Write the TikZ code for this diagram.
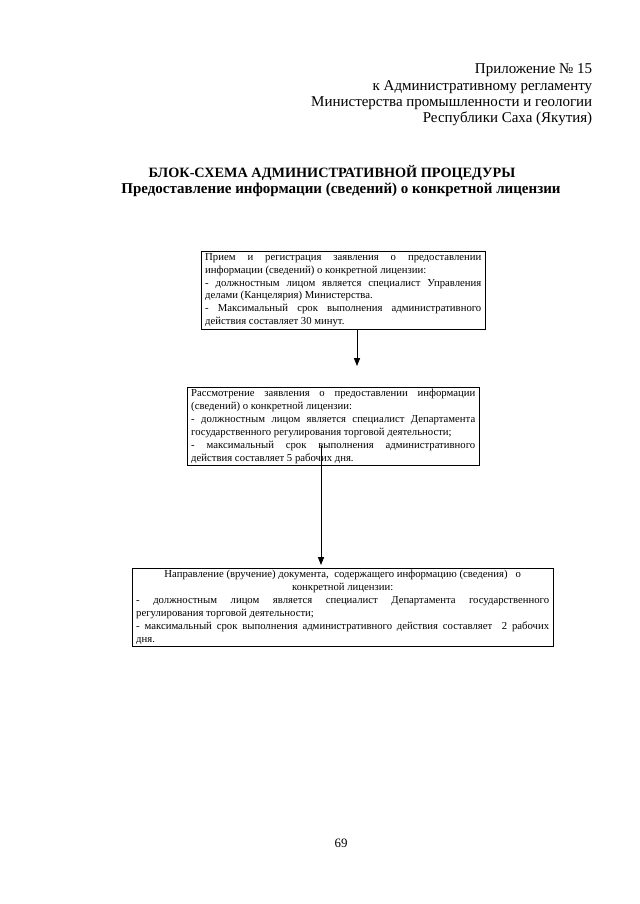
\documentclass[tikz,border=0pt]{standalone}
\usepackage{fontspec}
\setmainfont{Liberation Serif}
\usepackage{tikz}
\usetikzlibrary{positioning,arrows.meta}
\hyphenpenalty=10000
\exhyphenpenalty=10000
\tolerance=9999
\newcommand{\boxfont}{\fontsize{10}{12.1}\selectfont}
\newcommand{\headfont}{\fontsize{14}{16}\selectfont}

\begin{document}
\begin{tikzpicture}[x=0.328125mm, y=-0.328125mm,
  stepbox/.style={draw, line width=0.5pt, align=justify, font=\boxfont,
    inner xsep=1.3mm, inner ysep=0.6mm, anchor=north west},
  flow/.style={-{Triangle[length=2.6mm,width=2mm]}, line width=0.8pt}]
  \useasboundingbox (0,0) rectangle (640,904);

  % Header (right aligned)
  \node[anchor=east, font=\headfont] (app1) at (596,70) {Приложение № 15};
  \node[anchor=east, font=\headfont] (app2) at (596,87) {к Административному регламенту};
  \node[anchor=east, font=\headfont] (app3) at (596,103) {Министерства промышленности и геологии};
  \node[anchor=east, font=\headfont] (app4) at (596,119) {Республики Саха (Якутия)};

  % Title
  \node[font=\fontsize{13.3}{16}\selectfont\bfseries] (title1) at (332,173) {БЛОК-СХЕМА АДМИНИСТРАТИВНОЙ ПРОЦЕДУРЫ};
  \node[font=\headfont\bfseries] (title2) at (341,190) {Предоставление информации (сведений) о конкретной лицензии};

  % Step 1
  \node[stepbox, text width=90.6mm] (box1) at (201,251) {Прием и регистрация заявления о предоставлении информации (сведений) о конкретной лицензии:\par
    - должностным лицом является специалист Управления делами (Канцелярия) Министерства.\par
    - Максимальный срок выполнения административного действия составляет 30 минут.};

  % Step 2
  \node[stepbox, text width=93.2mm] (box2) at (187,387) {Рассмотрение заявления о предоставлении информации (сведений) о конкретной лицензии:\par
    - должностным лицом является специалист Департамента государственного регулирования торговой деятельности;\par
    - максимальный срок выполнения административного действия составляет 5 рабочих дня.};

  % Step 3
  \node[stepbox, text width=135.5mm] (box3) at (132,568) {{\centering Направление (вручение) документа,\ \ содержащего информацию (сведения)\ \ \ о\\ конкретной лицензии:\par}
    - должностным лицом является специалист Департамента государственного\linebreak
    регулирования торговой деятельности;\par
    - максимальный срок выполнения административного действия составляет\ \ 2 рабочих\linebreak
    дня.};

  % Arrows
  \coordinate (a1end) at (357,366);
  \draw[flow] (box1.south -| a1end) -- (a1end);
  \coordinate (a2start) at (321,446);
  \coordinate (a2end) at (321,565);
  \draw[flow] (a2start) -- (a2end);

  % Page number
  \node[font=\fontsize{12}{14}\selectfont] (page) at (341,843) {69};
\end{tikzpicture}
\end{document}
